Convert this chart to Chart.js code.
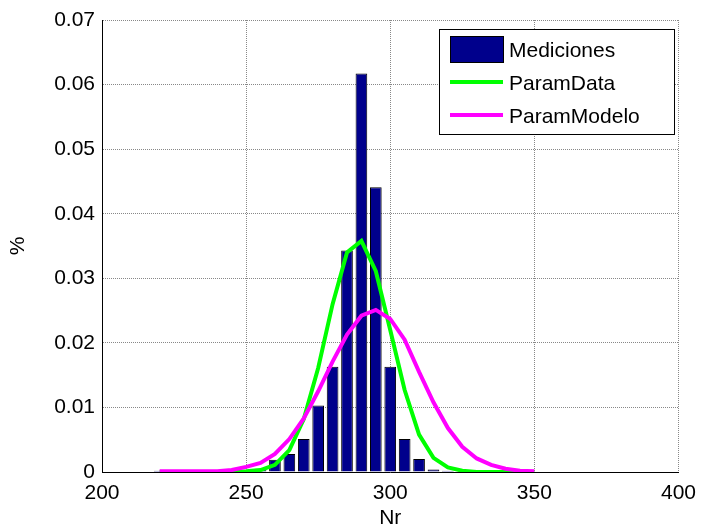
<!DOCTYPE html>
<html>
<head>
<meta charset="utf-8">
<script src="https://cdn.jsdelivr.net/npm/chart.js@4"></script>
<style>
  html, body { margin: 0; padding: 0; background: #fff; }
  #wrap { width: 705px; height: 531px; }
</style>
</head>
<body>
<div id="wrap"><canvas id="chart" width="705" height="531"></canvas></div>
<script>
// histogram bins (centre of each bin) and measured share
const binCenters = [220, 225, 230, 235, 240, 245, 250, 255, 260, 265, 270, 275, 280, 285, 290, 295, 300, 305, 310, 315, 320];
const mediciones = [0.0002, 0, 0, 0, 0, 0, 0, 0.0005, 0.0019, 0.0028, 0.0051, 0.0103, 0.0163, 0.0343, 0.0617, 0.0441, 0.0163, 0.0051, 0.0020, 0.0004, 0.0002];

// fitted curves
const curveX = [220, 225, 230, 235, 240, 245, 250, 255, 260, 265, 270, 275, 280, 285, 290, 295, 300, 305, 310, 315, 320, 325, 330, 335, 340, 345, 350];
const paramData = [0, 0, 0, 0, 0, 0, 0.0001, 0.0003, 0.0011, 0.0034, 0.0082, 0.0161, 0.0260, 0.0340, 0.0358, 0.0311, 0.0220, 0.0127, 0.0058, 0.0022, 0.0007, 0.0002, 0, 0, 0, 0, 0];
const paramModelo = [0.0001, 0.0001, 0.0001, 0.0001, 0.0001, 0.0003, 0.0008, 0.0014, 0.0028, 0.0051, 0.0083, 0.0125, 0.0171, 0.0213, 0.0242, 0.0251, 0.0237, 0.0205, 0.0155, 0.0108, 0.0068, 0.0039, 0.0021, 0.0011, 0.0005, 0.0002, 0.0001];

const xTicks = [200, 250, 300, 350, 400];
const FONT = "'Liberation Sans', Arial, sans-serif";

const toPoints = (xs, ys) => xs.map((x, i) => ({ x: x, y: ys[i] }));

// legend drawn inside the plot, top right, like the axes legend box
const boxLegend = {
  id: 'boxLegend',
  afterDraw(chart) {
    const ctx = chart.ctx;
    const x0 = 439, y0 = 29, w = 235, h = 105;
    ctx.save();
    ctx.fillStyle = '#fff';
    ctx.fillRect(x0, y0, w, h);
    ctx.strokeStyle = '#000';
    ctx.lineWidth = 1;
    ctx.strokeRect(x0 + 0.5, y0 + 0.5, w, h);
    ctx.font = '21px ' + FONT;
    ctx.textBaseline = 'middle';
    chart.data.datasets.forEach((ds, i) => {
      const cy = y0 + 20 + i * 33;
      if (ds.type === 'bar') {
        ctx.fillStyle = ds.backgroundColor;
        ctx.fillRect(x0 + 11, cy - 13, 53, 26);
        ctx.strokeStyle = '#000';
        ctx.strokeRect(x0 + 11.5, cy - 12.5, 53, 26);
      } else {
        ctx.strokeStyle = ds.borderColor;
        ctx.lineWidth = 4;
        ctx.beginPath();
        ctx.moveTo(x0 + 11, cy);
        ctx.lineTo(x0 + 64, cy);
        ctx.stroke();
        ctx.lineWidth = 1;
      }
      ctx.fillStyle = '#000';
      ctx.fillText(ds.label, x0 + 70, cy + 2);
    });
    ctx.restore();
  }
};

new Chart(document.getElementById('chart').getContext('2d'), {
  data: {
    datasets: [
      {
        type: 'bar',
        label: 'Mediciones',
        data: toPoints(binCenters, mediciones),
        backgroundColor: '#00008C',
        borderColor: '#000',
        borderWidth: 1,
        barPercentage: 0.81,
        categoryPercentage: 1,
        order: 3
      },
      {
        type: 'line',
        label: 'ParamData',
        data: toPoints(curveX, paramData),
        borderColor: '#00FF00',
        borderWidth: 4,
        pointRadius: 0,
        tension: 0,
        order: 2
      },
      {
        type: 'line',
        label: 'ParamModelo',
        data: toPoints(curveX, paramModelo),
        borderColor: '#FF00FF',
        borderWidth: 4,
        pointRadius: 0,
        tension: 0,
        order: 1
      }
    ]
  },
  options: {
    responsive: false,
    animation: false,
    layout: { padding: { left: 6, right: 26, top: 20, bottom: 0 } },
    plugins: { legend: { display: false }, tooltip: { enabled: false } },
    scales: {
      x: {
        type: 'linear',
        offset: false,
        min: 200,
        max: 400,
        afterBuildTicks: (scale) => { scale.ticks = xTicks.map(v => ({ value: v })); },
        afterFit: (scale) => { scale.height = 59; },
        ticks: { color: '#000', font: { family: FONT, size: 21 }, padding: 9, maxRotation: 0 },
        grid: { offset: false, color: '#888', lineWidth: 1, drawTicks: false },
        border: { display: true, color: '#000', width: 1, dash: [1, 1] },
        title: { display: true, text: 'Nr', color: '#000', font: { family: FONT, size: 21 }, padding: { top: 0, bottom: 0 } }
      },
      y: {
        min: 0,
        max: 0.07,
        afterFit: (scale) => { scale.width = 96; },
        ticks: {
          stepSize: 0.01,
          color: '#000',
          font: { family: FONT, size: 21 },
          padding: 7,
          callback: (v) => v === 0 ? '0' : v.toFixed(2)
        },
        grid: { color: '#888', lineWidth: 1, drawTicks: false },
        border: { display: true, color: '#000', width: 1, dash: [1, 1] },
        title: { display: true, text: '%', color: '#000', font: { family: FONT, size: 21 }, padding: 0 }
      }
    }
  },
  plugins: [boxLegend]
});
</script>
</body>
</html>
